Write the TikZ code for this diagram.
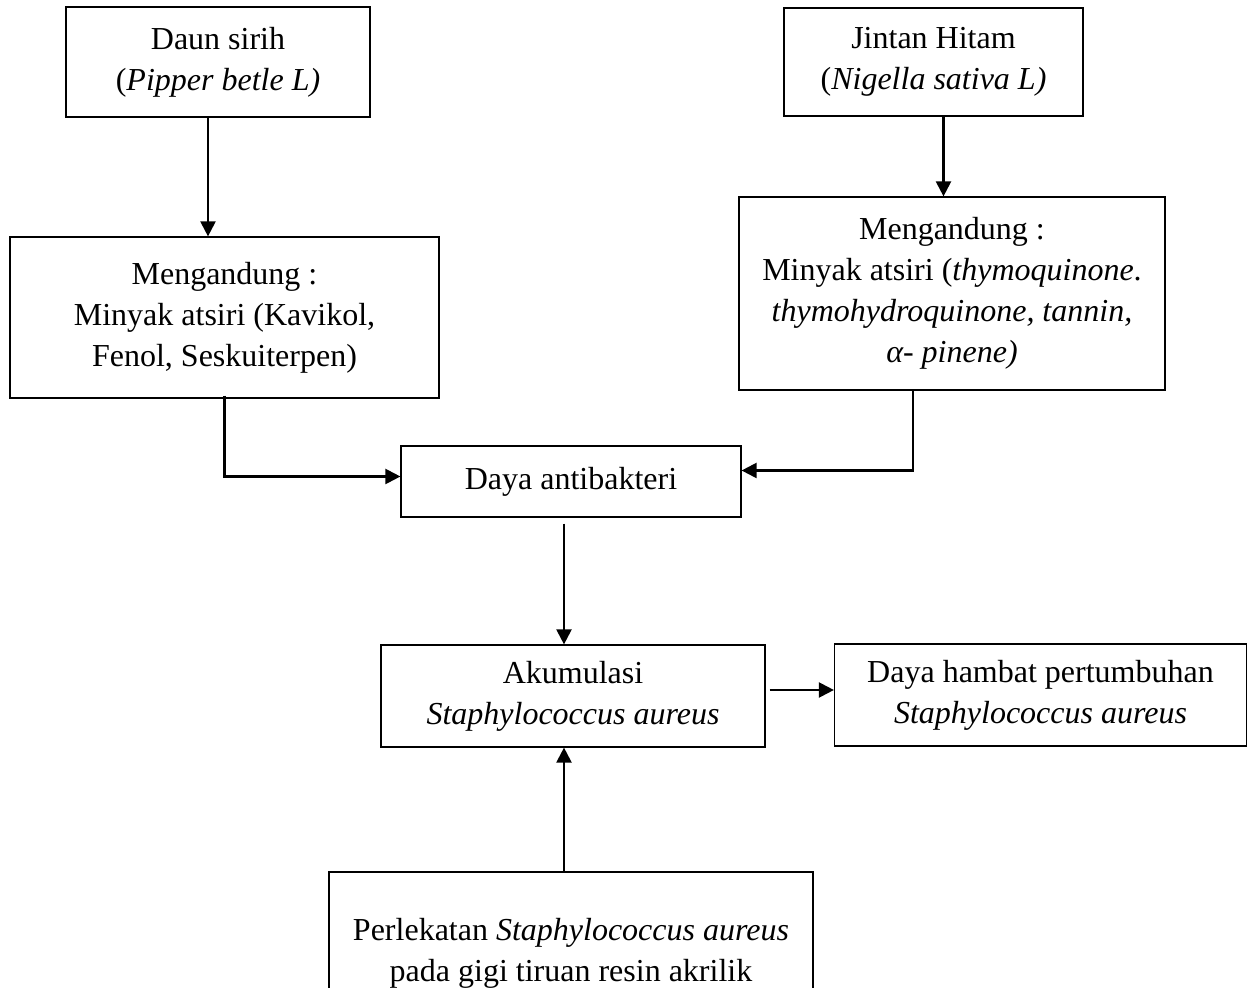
\documentclass[tikz,border=0pt]{standalone}
\usepackage{fontspec}
\setmainfont{Liberation Serif}
\usetikzlibrary{arrows.meta}
\tikzset{
  kotak/.style={draw, line width=0.6pt, align=center, inner sep=0pt,
    font=\fontsize{16pt}{20.5pt}\selectfont},
  panah/.style={line width=1.1pt, -{Triangle[length=7.5pt,width=7.5pt]}}
}
\begin{document}
\begin{tikzpicture}[x=0.5pt,y=-0.5pt]
      \clip (0,0) rectangle (1249,988);
      \useasboundingbox (0,0) rectangle (1249,988);
      \draw
        (218,62) node[kotak, minimum width=152pt, minimum height=55pt] (sirih)
          {Daun sirih\\(\textit{Pipper betle L)}}
        (224.5,317.5) node[kotak, minimum width=214.5pt, minimum height=80.5pt] (kandungA)
          {Mengandung :\\Minyak atsiri (Kavikol,\\Fenol, Seskuiterpen)}
        (933.5,62) node[kotak, minimum width=149.5pt, minimum height=54pt] (jintan)
          {Jintan Hitam\\(\textit{Nigella sativa L)}}
        (952,293.5) node[kotak, minimum width=213pt, minimum height=96.5pt] (kandungB)
          {Mengandung :\\Minyak atsiri (\textit{thymoquinone}.\\\textit{thymohydroquinone, tannin,}\\\textit{α- pinene)}}
        (571,481.5) node[kotak, minimum width=170pt, minimum height=35.5pt] (antibakteri)
          {Daya antibakteri}
        (573,696) node[kotak, minimum width=192pt, minimum height=51pt] (akumulasi)
          {Akumulasi\\\textit{Staphylococcus aureus}}
        (1040.5,695) node[kotak, minimum width=206pt, minimum height=51pt] (hambat)
          {Daya hambat pertumbuhan\\\textit{Staphylococcus aureus}}
        (571,953) node[kotak, minimum width=242pt, minimum height=81pt] (lekat)
          {Perlekatan \textit{Staphylococcus aureus}\\pada gigi tiruan resin akrilik};
      \begin{scope}[panah]
        \draw ([xshift=-5pt]sirih.south) to ([xshift=-5pt]sirih.south |- kandungA.north);
        \draw ([xshift=5pt]jintan.south) to ([xshift=5pt]jintan.south |- kandungB.north);
        \draw ([yshift=1.5pt]kandungA.south) |- ([yshift=2.5pt]antibakteri.west);
        \draw ([xshift=-19.5pt]kandungB.south) |- ([yshift=5.5pt]antibakteri.east);
        \draw ([xshift=-3.5pt,yshift=-3pt]antibakteri.south) to ([xshift=-3.5pt]antibakteri.south |- akumulasi.north);
        \draw ([xshift=2pt,yshift=3pt]akumulasi.east) to ([yshift=3pt]akumulasi.east -| hambat.west);
        \draw ([xshift=-3.5pt]lekat.north) to ([xshift=-3.5pt]lekat.north |- akumulasi.south);
      \end{scope}
    \end{tikzpicture}
\end{document}
